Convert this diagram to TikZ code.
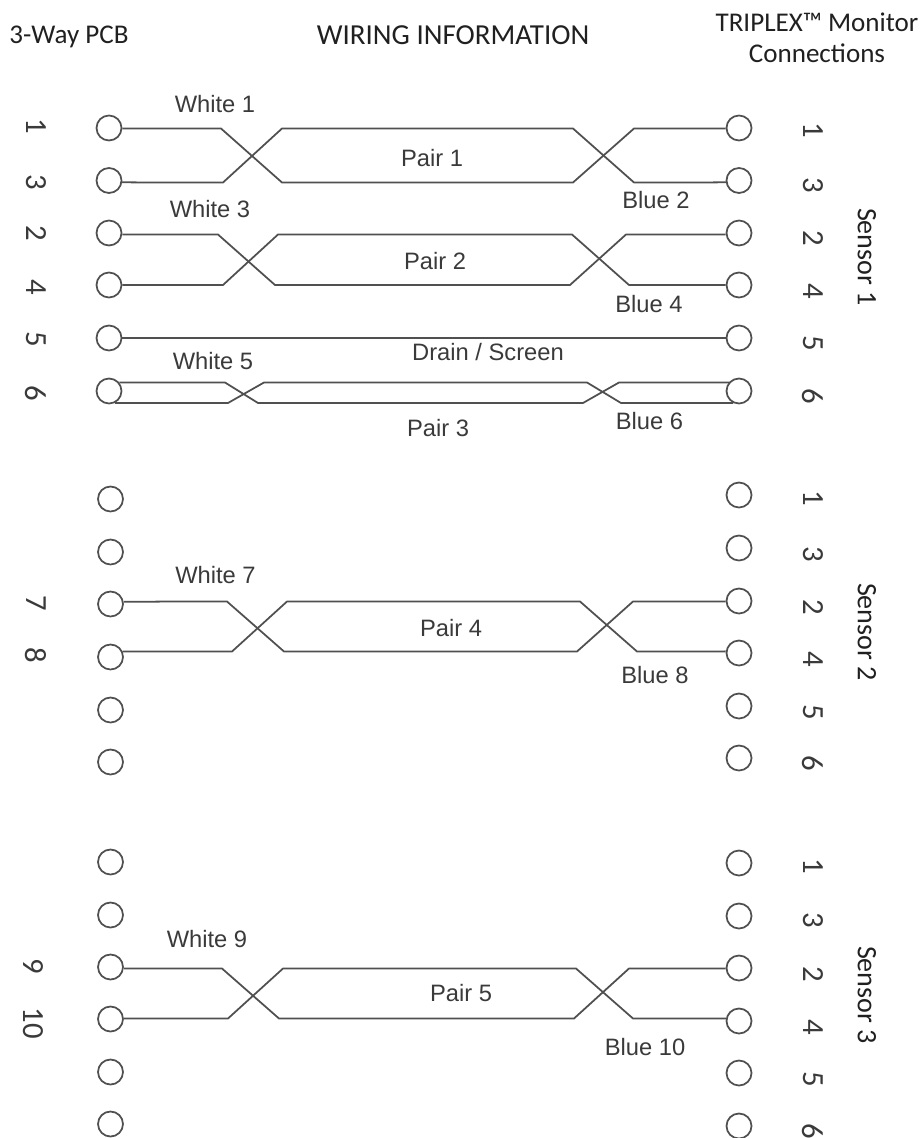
\documentclass[tikz,border=0pt]{standalone}
\usepackage{fontspec}
\setmainfont{Liberation Sans}
\newfontfamily\titlefont{Carlito}
\definecolor{wiregray}{HTML}{505050}
\definecolor{labelgray}{HTML}{3A3A3A}
\definecolor{titlegray}{HTML}{202020}
\tikzset{
    pin/.style={draw=wiregray, line width=1pt, circle, minimum size=0.5cm, inner sep=0pt},
    wire/.style={draw=wiregray, line width=1pt},
    wirelabel/.style={inner sep=0pt, text=labelgray, font=\fontsize{13.5}{16}\selectfont},
    headlabel/.style={inner sep=0pt, text=titlegray, font=\titlefont\fontsize{15.4}{18}\selectfont},
    pinnum/.style={inner sep=0pt, rotate=-90, text=labelgray, font=\titlefont\fontsize{17.5}{20}\selectfont},
    sensorlabel/.style={inner sep=0pt, rotate=-90, text=titlegray, font=\titlefont\fontsize{16}{18}\selectfont}
}
\begin{document}
\begin{tikzpicture}[x=0.02cm, y=-0.02cm]
    \useasboundingbox (0,0) rectangle (921,1138);

    % Headings
    \node[headlabel] (pcb) at (69,37) {3-Way PCB};
    \node[headlabel, font=\titlefont\fontsize{16.5}{18}\selectfont] (wiring) at (453,35) {WIRING INFORMATION};
    \node[headlabel] (triplex) at (817,22) {TRIPLEX™ Monitor};
    \node[headlabel] (connections) at (817,53) {Connections};

    % Left pins
    \foreach \n/\y in {a1/128, a2/180.5, a3/233, a4/285, a5/338, a6/391} {
        \node[pin] (l\n) at (109,\y) {};
    }
    \foreach \n/\y in {b1/499, b2/552, b3/604, b4/657, b5/710, b6/762,
                       c1/862, c2/915, c3/967, c4/1019, c5/1072, c6/1124} {
        \node[pin] (l\n) at (110.5,\y) {};
    }

    % Right pins
    \foreach \n/\y in {a1/128, a2/180.5, a3/233, a4/285, a5/338, a6/391,
                       b1/495, b2/548, b3/601, b4/653, b5/706, b6/758,
                       c1/863, c2/916, c3/968, c4/1021, c5/1073, c6/1126} {
        \node[pin] (r\n) at (739,\y) {};
    }

    % Numbers beside the left pins
    \foreach \n/\t/\y in {a1/1/126, a2/3/182, a3/2/233, a4/4/287, a5/5/339, a6/6/393, b3/7/603, b4/8/655} {
        \node[pinnum] (lnum\n) at (36,\y) {\t};
    }
    \foreach \n/\t/\y in {c3/9/966, c4/10/1023} {
        \node[pinnum] (lnum\n) at (33,\y) {\t};
    }

    % Numbers beside the right pins
    \foreach \n/\t/\y in {a1/1/130, a2/3/185, a3/2/238, a4/4/291, a5/5/343, a6/6/396,
                          b1/1/498, b2/3/554, b3/2/607, b4/4/659, b5/5/712, b6/6/763,
                          c1/1/866, c2/3/920, c3/2/974, c4/4/1027, c5/5/1079, c6/6/1131} {
        \node[pinnum] (rnum\n) at (813,\y) {\t};
    }

    % Sensors
    \node[sensorlabel] (sensora) at (867,257) {Sensor 1};
    \node[sensorlabel] (sensorb) at (867,632) {Sensor 2};
    \node[sensorlabel] (sensorc) at (867,995) {Sensor 3};

    % Pair 1
    \draw[wire] (la1.-2) -- (221,128.5) -- (282,182.5) -- (573,182.5) -- (634,128.5) -- (ra1.182);
    \draw[wire] (la2.-8.6) -- (223,182.5) -- (282,128.5) -- (573,128.5) -- (634,182.5) -- (ra2.188.6);
    \node[wirelabel] (whitea) at (215,104) {White 1};
    \node[wirelabel] (paira) at (432,158) {Pair 1};
    \node[wirelabel] (bluea) at (656,200) {Blue 2};

    % Pair 2
    \draw[wire] (la3.-6.4) -- (218,234.5) -- (275,285) -- (570,285) -- (626,234.5) -- (ra3.186.4);
    \draw[wire] (la4) -- (223,285) -- (278,234.5) -- (572,234.5) -- (629,285) -- (ra4);
    \node[wirelabel] (whiteb) at (210,209) {White 3};
    \node[wirelabel] (pairb) at (435,261) {Pair 2};
    \node[wirelabel] (blueb) at (649,304) {Blue 4};

    % Drain
    \draw[wire] (la5) -- (ra5);
    \node[wirelabel] (drain) at (488,352) {Drain / Screen};

    % Pair 3
    \draw[wire] (la6.39.4) -- (225,382.5) -- (258,403) -- (583,403) -- (619,382.5) -- (ra6.140.6);
    \draw[wire] (la6.-63.5) -- (228,403) -- (264,382.5) -- (587,382.5) -- (621,403) -- (ra6.-116.5);
    \node[wirelabel] (whitec) at (213,361) {White 5};
    \node[wirelabel] (pairc) at (438,428) {Pair 3};
    \node[wirelabel] (bluec) at (649.5,421) {Blue 6};

    % Pair 4
    \draw[wire] (lb3.10.7) -- (227,601.5) -- (284,651.5) -- (577,651.5) -- (633,601.5) -- (rb3.182);
    \draw[wire] (lb4.24.2) -- (232,651.5) -- (287,601.5) -- (580,601.5) -- (637,651.5) -- (rb4.173.6);
    \node[wirelabel] (whited) at (215.5,575) {White 7};
    \node[wirelabel] (paird) at (451,628) {Pair 4};
    \node[wirelabel] (blued) at (655,675) {Blue 8};

    % Pair 5
    \draw[wire] (lc3.-6.4) -- (222,968.5) -- (279,1018.5) -- (574,1018.5) -- (629,968.5) -- (rc3.182);
    \draw[wire] (lc4.2) -- (228,1018.5) -- (283,968.5) -- (576,968.5) -- (633,1018.5) -- (rc4.169.3);
    \node[wirelabel] (whitee) at (207,939) {White 9};
    \node[wirelabel] (paire) at (461,993) {Pair 5};
    \node[wirelabel] (bluee) at (645,1047) {Blue 10};
\end{tikzpicture}
\end{document}
